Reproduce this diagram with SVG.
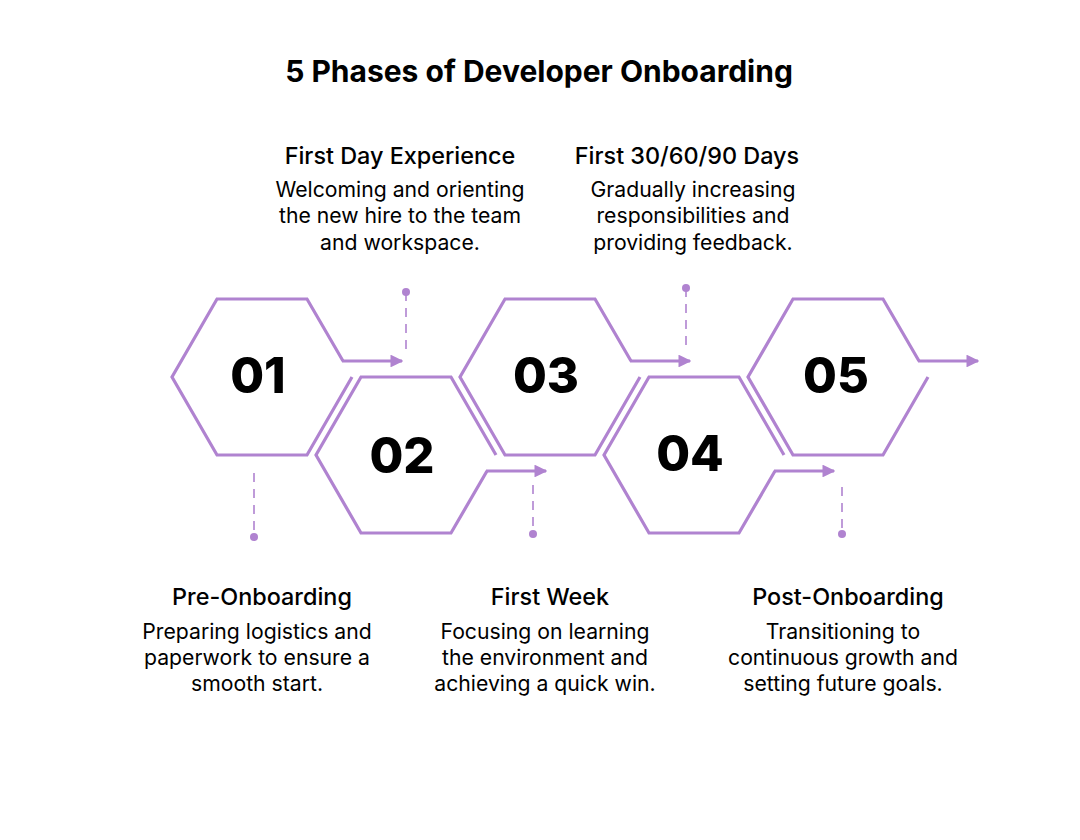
<svg xmlns="http://www.w3.org/2000/svg" width="1080" height="840" viewBox="0 0 1080 840">
<style>
.hex{fill:none;stroke:#B083D0;stroke-width:3.2;stroke-linejoin:miter}
.arr{fill:none;stroke:#B083D0;stroke-width:3.2}
.dash{fill:none;stroke:#B083D0;stroke-width:1.6;stroke-dasharray:9 7}
.dot{fill:#B083D0}
.num{font-family:Inter,"Liberation Sans",sans-serif;font-weight:800;font-size:49px;fill:#000;text-anchor:middle}
.title{font-family:Inter,"Liberation Sans",sans-serif;font-weight:700;font-size:30px;fill:#000;text-anchor:middle}
.head{font-family:Inter,"Liberation Sans",sans-serif;font-weight:500;font-size:23.4px;fill:#000;text-anchor:middle}
.body{font-family:Inter,"Liberation Sans",sans-serif;font-weight:400;font-size:21.2px;fill:#000;text-anchor:middle}
</style>
<defs>
<marker id="ah" viewBox="0 0 10 10" refX="9" refY="5" markerWidth="4" markerHeight="4" markerUnits="strokeWidth" orient="auto">
<path d="M0,0 L10,5 L0,10 Z" fill="#B083D0"/>
</marker>
</defs>
<rect width="1080" height="840" fill="#fff"/>
<text class="title" x="539" y="82">5 Phases of Developer Onboarding</text>

<g id="phase1">
<path class="hex" d="M343,361 L307,299 L217,299 L172,377 L217,455 L307,455 L352,377"/>
<text class="num" x="258" y="393">01</text>
</g>
<g id="phase2">
<path class="hex" d="M487,471 L451,533 L361,533 L316,455 L361,377 L451,377 L496,455"/>
<text class="num" x="402" y="473">02</text>
</g>
<g id="phase3">
<path class="hex" d="M631,361 L595,299 L505,299 L460,377 L505,455 L595,455 L640,377"/>
<text class="num" x="546" y="393">03</text>
</g>
<g id="phase4">
<path class="hex" d="M775,471 L739,533 L649,533 L604,455 L649,377 L739,377 L784,455"/>
<text class="num" x="690" y="471">04</text>
</g>
<g id="phase5">
<path class="hex" d="M919,361 L883,299 L793,299 L748,377 L793,455 L883,455 L928,377"/>
<text class="num" x="836" y="393">05</text>
</g>

<g id="connectors">
<line class="arr" x1="342" y1="361" x2="402" y2="361" marker-end="url(#ah)"/>
<line class="arr" x1="486" y1="471" x2="546" y2="471" marker-end="url(#ah)"/>
<line class="arr" x1="630" y1="361" x2="690" y2="361" marker-end="url(#ah)"/>
<line class="arr" x1="774" y1="471" x2="834" y2="471" marker-end="url(#ah)"/>
<line class="arr" x1="918" y1="361" x2="978" y2="361" marker-end="url(#ah)"/>
<line class="dash" x1="406" y1="292" x2="406" y2="352"/>
<circle class="dot" cx="406" cy="292" r="4"/>
<line class="dash" x1="686" y1="288" x2="686" y2="352"/>
<circle class="dot" cx="686" cy="288" r="4"/>
<line class="dash" x1="254" y1="473" x2="254" y2="537"/>
<circle class="dot" cx="254" cy="537" r="4"/>
<line class="dash" x1="533" y1="485" x2="533" y2="534"/>
<circle class="dot" cx="533" cy="534" r="4"/>
<line class="dash" x1="842" y1="487" x2="842" y2="534"/>
<circle class="dot" cx="842" cy="534" r="4"/>
</g>

<g id="label-first-day">
<text class="head" x="400" y="164">First Day Experience</text>
<text class="body" x="400" y="197">Welcoming and orienting</text>
<text class="body" x="400" y="223">the new hire to the team</text>
<text class="body" x="400" y="250">and workspace.</text>
</g>
<g id="label-first-30">
<text class="head" x="687" y="164">First 30/60/90 Days</text>
<text class="body" x="693" y="197">Gradually increasing</text>
<text class="body" x="693" y="223">responsibilities and</text>
<text class="body" x="693" y="250">providing feedback.</text>
</g>
<g id="label-pre">
<text class="head" x="262" y="605">Pre-Onboarding</text>
<text class="body" x="257" y="639">Preparing logistics and</text>
<text class="body" x="257" y="665">paperwork to ensure a</text>
<text class="body" x="257" y="691">smooth start.</text>
</g>
<g id="label-week">
<text class="head" x="550" y="605">First Week</text>
<text class="body" x="545" y="639">Focusing on learning</text>
<text class="body" x="545" y="665">the environment and</text>
<text class="body" x="545" y="691">achieving a quick win.</text>
</g>
<g id="label-post">
<text class="head" x="848" y="605">Post-Onboarding</text>
<text class="body" x="843" y="639">Transitioning to</text>
<text class="body" x="843" y="665">continuous growth and</text>
<text class="body" x="843" y="691">setting future goals.</text>
</g>
</svg>
